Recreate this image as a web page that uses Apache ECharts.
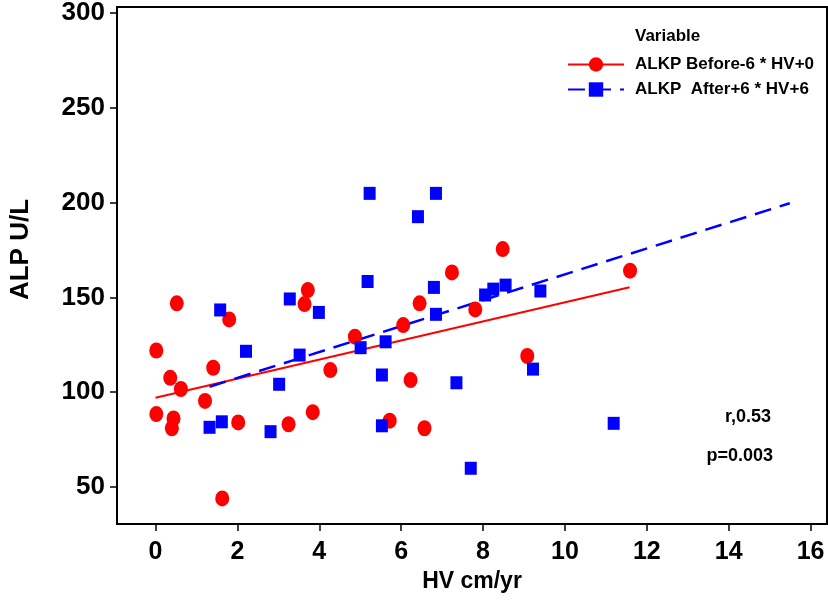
<!DOCTYPE html>
<html><head><meta charset="utf-8">
<script src="https://cdn.jsdelivr.net/npm/echarts@6/dist/echarts.min.js"></script>
<style>html,body{margin:0;padding:0;background:#fff}#c{width:828px;height:610px}</style>
</head><body><div id="c"></div>
<script>
const xTicks = [0, 2, 4, 6, 8, 10, 12, 14, 16];
const yTicks = [50, 100, 150, 200, 250, 300];
const beforeName = 'ALKP Before-6 * HV+0';
const afterName = 'ALKP  After+6 * HV+6';
const beforeHV = [0.02,0.02,0.36,0.40,0.44,0.52,0.62,1.21,1.41,1.63,1.80,2.02,3.25,3.64,3.72,3.84,4.27,4.87,5.72,6.05,6.23,6.45,6.57,7.24,7.81,8.48,9.08,11.59];
const beforeALP = [122,88.5,107.6,81,86.2,146.9,101.7,95.4,112.9,44,138.4,84.1,83.1,146.5,153.9,89.5,111.7,129.3,85,135.4,106.4,146.9,81,163.2,143.7,175.5,119.1,164.1];
const afterHV = [1.32,1.58,1.62,2.21,2.81,3.02,3.28,3.52,3.99,5.01,5.18,5.23,5.53,5.53,5.62,6.41,6.85,6.80,6.85,7.35,7.70,8.05,8.25,8.55,9.22,9.40,11.19];
const afterALP = [81.5,143.4,84.4,121.6,79.2,104.2,149.2,119.6,142.1,123.5,158.4,204.9,109.1,82.3,126.6,192.6,204.9,155.3,141.1,105,59.9,151.3,154.4,156.5,112.2,153.4,83.6];
const beforeFitHV = [0, 11.58];
const beforeFitALP = [97.1, 155.4];
const afterFitHV = [1.32, 15.49];
const afterFitALP = [102.9, 199.7];
const statR = 'r,0.53';
const statP = 'p=0.003';

const zip = (a, b) => a.map((v, i) => [v, b[i]]);
const FF = '"Liberation Sans", Arial, sans-serif';

const chart = echarts.init(document.getElementById('c'), null, {renderer: 'canvas'});
chart.setOption({
  animation: false,
  backgroundColor: '#fff',
  title: {
    text: 'Variable', left: 635, top: 28, padding: 0,
    textStyle: {fontFamily: FF, fontWeight: 'bold', fontSize: 17, color: '#000'}
  },
  legend: {
    orient: 'vertical', left: 567, top: 56, padding: 0,
    itemWidth: 56, itemHeight: 18, itemGap: 8,
    data: [beforeName, afterName],
    textStyle: {fontFamily: FF, fontWeight: 'bold', fontSize: 17, color: '#000', padding: [0, 0, 0, 6]}
  },
  grid: {left: 113, right: 1, top: 7, bottom: 86, show: true, borderColor: '#000', borderWidth: 2, containLabel: false},
  xAxis: {
    type: 'value', min: -0.94, max: 16.4,
    name: 'HV cm/yr', nameLocation: 'middle', nameGap: 42,
    nameTextStyle: {fontFamily: FF, fontWeight: 'bold', fontSize: 23, color: '#000'},
    axisLine: {show: true, onZero: false, lineStyle: {color: '#000', width: 2}},
    axisTick: {show: true, length: 7, lineStyle: {color: '#000', width: 1.5}, customValues: xTicks},
    axisLabel: {fontFamily: FF, fontWeight: 'bold', fontSize: 25, color: '#000', margin: 16, customValues: xTicks},
    splitLine: {show: false}
  },
  yAxis: {
    type: 'value', min: 30.5, max: 303.2,
    name: 'ALP U/L', nameLocation: 'middle', nameGap: 83,
    nameTextStyle: {fontFamily: FF, fontWeight: 'bold', fontSize: 26, color: '#000', padding: [0, 0, 0, 32]},
    axisLine: {show: true, onZero: false, lineStyle: {color: '#000', width: 2}},
    axisTick: {show: true, length: 7, lineStyle: {color: '#000', width: 1.5}, customValues: yTicks},
    axisLabel: {fontFamily: FF, fontWeight: 'bold', fontSize: 26, color: '#000', margin: 12, customValues: yTicks},
    splitLine: {show: false}
  },
  series: [
    {
      name: beforeName, type: 'line', data: zip(beforeFitHV, beforeFitALP),
      symbol: 'circle', showSymbol: false, symbolSize: 15,
      itemStyle: {color: '#ff0000'},
      lineStyle: {color: '#ff0000', width: 2}, z: 3
    },
    {
      name: afterName, type: 'line', data: zip(afterFitHV, afterFitALP),
      symbol: 'rect', showSymbol: false, symbolSize: 13,
      itemStyle: {color: '#0000ff'},
      lineStyle: {color: '#0000ff', width: 2.5, type: [17, 9]}, z: 3
    },
    {
      name: beforeName, type: 'scatter', data: zip(beforeHV, beforeALP),
      symbol: 'circle', symbolSize: [14, 16],
      itemStyle: {color: '#ff0000', opacity: 1}, z: 4
    },
    {
      name: afterName, type: 'scatter', data: zip(afterHV, afterALP),
      symbol: 'rect', symbolSize: [12, 13],
      itemStyle: {color: '#0000ff', opacity: 1}, z: 5
    }
  ],
  graphic: [
    {type: 'text', right: 57, top: 408, style: {text: statR, font: 'bold 18px ' + FF, fill: '#000'}},
    {type: 'text', right: 55, top: 447, style: {text: statP, font: 'bold 18px ' + FF, fill: '#000'}}
  ]
});
</script>
</body></html>
